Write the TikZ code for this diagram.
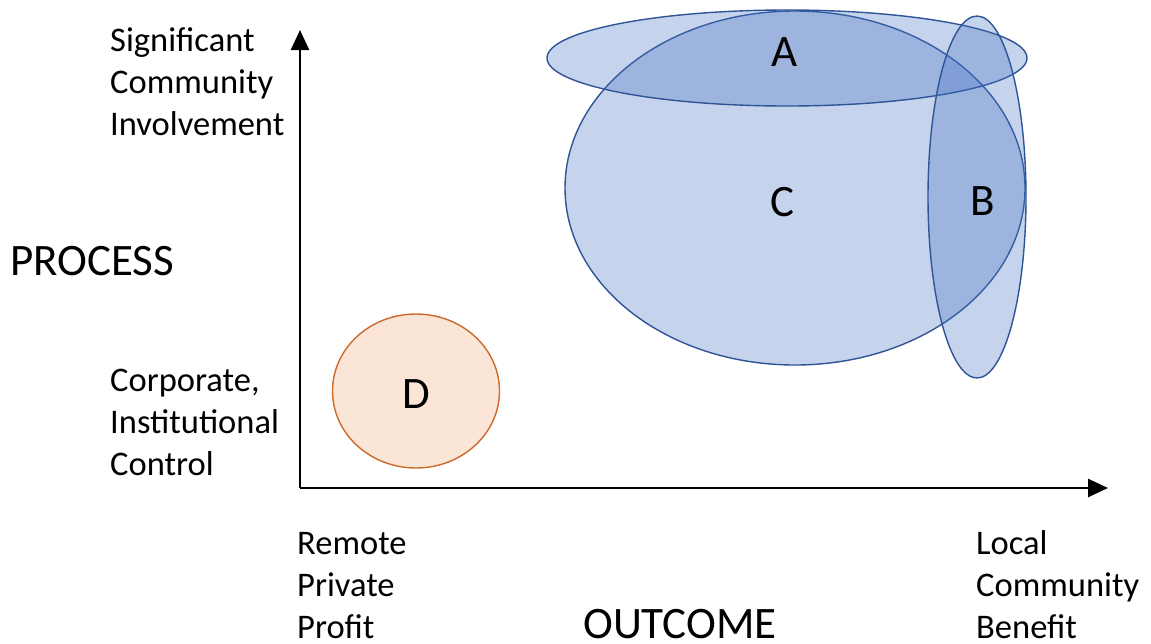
\documentclass[tikz,border=0pt]{standalone}
\usepackage{fontspec}
\setmainfont{Carlito}
\usetikzlibrary{arrows.meta,shapes.geometric}
\definecolor{setfill}{HTML}{4472C4}
\definecolor{setline}{HTML}{2F5597}
\definecolor{dfill}{HTML}{FBE5D6}
\definecolor{dline}{HTML}{CC6A2C}
\tikzset{
  blueset/.style={ellipse, draw=setline, line width=1.4pt, fill=setfill,
    fill opacity=0.31, draw opacity=1, inner sep=0pt},
  orangeset/.style={ellipse, draw=dline, line width=1.4pt, fill=dfill, inner sep=0pt},
  axis/.style={line width=2.6pt, -{Triangle[length=20pt,width=18pt]}},
  small/.style={anchor=base west, font=\fontsize{34.5}{41}\selectfont, inner sep=0pt},
  big/.style={font=\fontsize{45}{54}\selectfont, inner sep=0pt},
  letter/.style={font=\fontsize{45}{54}\selectfont, inner sep=0pt}
}
\begin{document}
\begin{tikzpicture}[x=1pt,y=-1pt]
\useasboundingbox (0,0) rectangle (1151,643);
\fill[white] (0,0) rectangle (1151,643);

% axes
\coordinate (origin) at (300,488);
\coordinate (ytop) at (300,30);
\coordinate (xend) at (1108,488);
\draw[axis] (origin) -- (ytop);
\draw[axis] (origin) -- (xend);

% overlapping sets
\node[blueset, minimum width=460pt, minimum height=354pt] (C) at (795,188) {};
\node[blueset, minimum width=480pt, minimum height=96pt] (A) at (787,58) {};
\node[blueset, minimum width=98pt, minimum height=362pt] (B) at (977,197) {};
\node[orangeset, minimum width=167pt, minimum height=154pt] (D) at (416,391) {};

\node[letter] (lA) at (785,52) {A};
\node[letter] (lC) at (782,202) {C};
\node[letter] (lB) at (983,201) {B};
\node[letter] (lD) at (416,394) {D};

% vertical axis labels
\node[small] (s1) at (110,51) {Significant};
\node[small] (s2) at (110,93) {Community};
\node[small] (s3) at (110,135) {Involvement};
\node[big, anchor=base west] (proc) at (10,275) {PROCESS};
\node[small] (c1) at (110,391) {Corporate,};
\node[small] (c2) at (110,433) {Institutional};
\node[small] (c3) at (110,475) {Control};

% horizontal axis labels
\node[small] (r1) at (297,554) {Remote};
\node[small] (r2) at (297,596) {Private};
\node[small] (r3) at (297,638) {Profit};
\node[big, anchor=base] (outc) at (680,638) {OUTCOME};
\node[small] (l1) at (976,554) {Local};
\node[small] (l2) at (976,596) {Community};
\node[small] (l3) at (976,638) {Benefit};
\end{tikzpicture}
\end{document}
